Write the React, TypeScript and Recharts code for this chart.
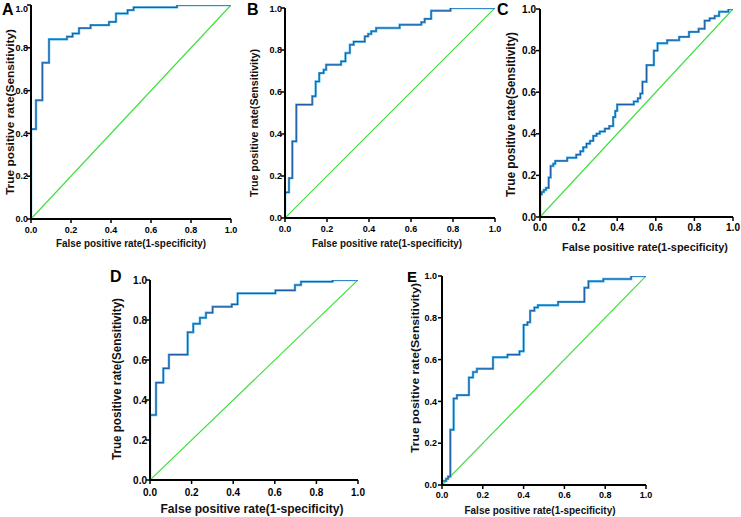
import React from 'react';
import { LineChart, Line, XAxis, YAxis, Label } from 'recharts';

const W = 741;
const H = 517;

const ticks = [0, 0.2, 0.4, 0.6, 0.8, 1.0];
const tickLabels = ['0.0', '0.2', '0.4', '0.6', '0.8', '1.0'];
const panelLetters = ['A', 'B', 'C', 'D', 'E'];
const xTitle = 'False positive rate(1-specificity)';
const yTitle = 'True positive rate(Sensitivity)';

// ROC step points: at each fpr the curve rises to tpr
const fprA = [0, 0, 0.025, 0.057, 0.09, 0.18, 0.208, 0.24, 0.298, 0.39, 0.425, 0.483, 0.513, 0.73, 1];
const tprA = [0, 0.42, 0.555, 0.73, 0.84, 0.852, 0.867, 0.892, 0.906, 0.921, 0.96, 0.976, 0.989, 1, 1];

const fprB = [0, 0, 0.019, 0.035, 0.054, 0.13, 0.146, 0.163, 0.184, 0.196, 0.267, 0.288, 0.309, 0.327, 0.38, 0.396, 0.411, 0.434, 0.546, 0.649, 0.665, 0.696, 0.788, 1];
const tprB = [0, 0.122, 0.19, 0.365, 0.54, 0.58, 0.65, 0.69, 0.706, 0.73, 0.746, 0.786, 0.825, 0.84, 0.865, 0.876, 0.889, 0.905, 0.92, 0.932, 0.948, 0.987, 1, 1];

const fprC = [0, 0, 0.009, 0.02, 0.031, 0.045, 0.055, 0.069, 0.079, 0.141, 0.188, 0.209, 0.224, 0.241, 0.259, 0.276, 0.293, 0.31, 0.336, 0.359, 0.379, 0.39, 0.4, 0.486, 0.507, 0.52, 0.531, 0.552, 0.59, 0.609, 0.659, 0.721, 0.772, 0.822, 0.853, 0.879, 0.905, 0.928, 0.976, 1];
const tprC = [0, 0.109, 0.12, 0.13, 0.14, 0.19, 0.245, 0.256, 0.27, 0.285, 0.3, 0.316, 0.335, 0.353, 0.366, 0.39, 0.401, 0.411, 0.425, 0.437, 0.48, 0.51, 0.541, 0.555, 0.571, 0.594, 0.65, 0.73, 0.8, 0.835, 0.85, 0.866, 0.89, 0.905, 0.944, 0.955, 0.966, 0.987, 1, 1];

const fprD = [0, 0, 0.029, 0.064, 0.091, 0.181, 0.208, 0.24, 0.269, 0.301, 0.393, 0.421, 0.603, 0.697, 0.726, 0.878, 1];
const tprD = [0, 0.325, 0.487, 0.558, 0.627, 0.739, 0.781, 0.811, 0.836, 0.866, 0.878, 0.933, 0.948, 0.975, 0.992, 1, 1];

const fprE = [0, 0, 0.02, 0.03, 0.041, 0.057, 0.073, 0.132, 0.152, 0.171, 0.25, 0.321, 0.38, 0.4, 0.419, 0.432, 0.453, 0.47, 0.569, 0.698, 0.718, 0.791, 0.927, 1];
const tprE = [0, 0.019, 0.03, 0.041, 0.264, 0.414, 0.43, 0.514, 0.541, 0.556, 0.611, 0.624, 0.64, 0.766, 0.779, 0.834, 0.849, 0.86, 0.876, 0.944, 0.975, 0.986, 1, 1];

const refX = [0, 1];
const refY = [0, 1];

const FONT = '"Liberation Sans", Arial, sans-serif';

const zip = (xs: number[], ys: number[]) => xs.map((x, i) => ({ x, y: ys[i] }));

const series = [
  zip(fprA, tprA),
  zip(fprB, tprB),
  zip(fprC, tprC),
  zip(fprD, tprD),
  zip(fprE, tprE),
];
const diag = zip(refX, refY);

type Cfg = {
  l: number; r: number; t: number; b: number;
  letter: { x: number; y: number; size: number };
  yT: { x: number; y: number; len: number; size: number };
  xT: { x: number; y: number; len: number; size: number };
  xTickY: number; yTickX: number; tickSize: number;
};

const layouts: Cfg[] = [
  { l: 31, r: 231, t: 5, b: 219, letter: { x: 2, y: 15, size: 16 }, yT: { x: 10, y: 112, len: 166, size: 11 }, xT: { x: 131, y: 243, len: 150, size: 11 }, xTickY: 233, yTickX: 28, tickSize: 9 },
  { l: 285, r: 495, t: 8, b: 218, letter: { x: 247, y: 15, size: 16 }, yT: { x: 254, y: 123, len: 148, size: 11 }, xT: { x: 387, y: 243, len: 150, size: 11 }, xTickY: 232, yTickX: 282, tickSize: 9 },
  { l: 540, r: 733, t: 9, b: 217, letter: { x: 497, y: 15, size: 16 }, yT: { x: 511, y: 114.5, len: 165, size: 12 }, xT: { x: 645, y: 247, len: 166, size: 11 }, xTickY: 231, yTickX: 536, tickSize: 10 },
  { l: 150, r: 358, t: 280, b: 480, letter: { x: 110, y: 282, size: 16 }, yT: { x: 117, y: 379, len: 162, size: 12 }, xT: { x: 252, y: 509, len: 183, size: 12 }, xTickY: 496, yTickX: 147, tickSize: 10 },
  { l: 442, r: 646, t: 276, b: 485, letter: { x: 407, y: 282, size: 15 }, yT: { x: 415, y: 368, len: 170, size: 11 }, xT: { x: 540, y: 510, len: 151, size: 11 }, xTickY: 498, yTickX: 437, tickSize: 9 },
];

const Y_AXIS_W = 30;
const X_AXIS_H = 30;

function Panel({ idx }: { idx: number }) {
  const c = layouts[idx];
  const data = series[idx];
  const margin = {
    left: c.l - Y_AXIS_W,
    top: c.t,
    right: W - c.r,
    bottom: H - c.b - X_AXIS_H,
  };
  const labelOf = (v: number) => {
    const i = ticks.findIndex((t) => Math.abs(t - v) < 1e-6);
    return i >= 0 ? tickLabels[i] : String(v);
  };
  const xTick = (p: any) => (
    <text x={p.x} y={c.xTickY} textAnchor="middle" fontFamily={FONT} fontWeight="bold" fontSize={c.tickSize} fill="#000">
      {labelOf(p.payload.value)}
    </text>
  );
  const yTick = (p: any) => (
    <text x={c.yTickX} y={p.y + c.tickSize * 0.36} textAnchor="end" fontFamily={FONT} fontWeight="bold" fontSize={c.tickSize} fill="#000">
      {labelOf(p.payload.value)}
    </text>
  );
  const xTitleEl = () => (
    <text x={c.xT.x} y={c.xT.y + c.xT.size * 0.36} textAnchor="middle" fontFamily={FONT} fontWeight="bold" fontSize={c.xT.size} fill="#111" textLength={c.xT.len} lengthAdjust="spacingAndGlyphs">
      {xTitle}
    </text>
  );
  const yTitleEl = () => {
    const bx = c.yT.x + c.yT.size * 0.36;
    return (
      <g>
        <text x={bx} y={c.yT.y} textAnchor="middle" transform={`rotate(-90, ${bx}, ${c.yT.y})`} fontFamily={FONT} fontWeight="bold" fontSize={c.yT.size} fill="#111" textLength={c.yT.len} lengthAdjust="spacingAndGlyphs">
          {yTitle}
        </text>
        <text x={c.letter.x} y={c.letter.y} fontFamily={FONT} fontWeight="bold" fontSize={c.letter.size} fill="#000">
          {panelLetters[idx]}
        </text>
      </g>
    );
  };
  return (
    <div style={{ position: 'absolute', left: 0, top: 0, width: W, height: H }}>
      <LineChart width={W} height={H} margin={margin}>
        <XAxis
          type="number"
          dataKey="x"
          domain={[0, 1]}
          ticks={ticks}
          allowDataOverflow
          height={X_AXIS_H}
          axisLine={{ stroke: '#000', strokeWidth: 2 }}
          tickLine={{ stroke: '#000', strokeWidth: 1.5 }}
          tickSize={4}
          tick={xTick}
        >
          <Label content={xTitleEl} />
        </XAxis>
        <YAxis
          type="number"
          dataKey="y"
          domain={[0, 1]}
          ticks={ticks}
          allowDataOverflow
          width={Y_AXIS_W}
          axisLine={{ stroke: '#000', strokeWidth: 2 }}
          tickLine={{ stroke: '#000', strokeWidth: 1.5 }}
          tickSize={4}
          tick={yTick}
        >
          <Label content={yTitleEl} />
        </YAxis>
        <Line data={diag} dataKey="y" type="linear" stroke="#3de03d" strokeWidth={1.2} dot={false} activeDot={false} isAnimationActive={false} />
        <Line data={data} dataKey="y" type="stepAfter" stroke="#4fb4e6" strokeWidth={2.4} dot={false} activeDot={false} isAnimationActive={false} />
        <Line data={data} dataKey="y" type="stepAfter" stroke="#1d5ea6" strokeWidth={1.1} dot={false} activeDot={false} isAnimationActive={false} />
      </LineChart>
    </div>
  );
}

export default function App() {
  return (
    <div style={{ position: 'absolute', left: 0, top: 0, width: W, height: H, background: '#fff', overflow: 'hidden' }}>
      {[0, 1, 2, 3, 4].map((i) => (
        <Panel key={i} idx={i} />
      ))}
    </div>
  );
}
